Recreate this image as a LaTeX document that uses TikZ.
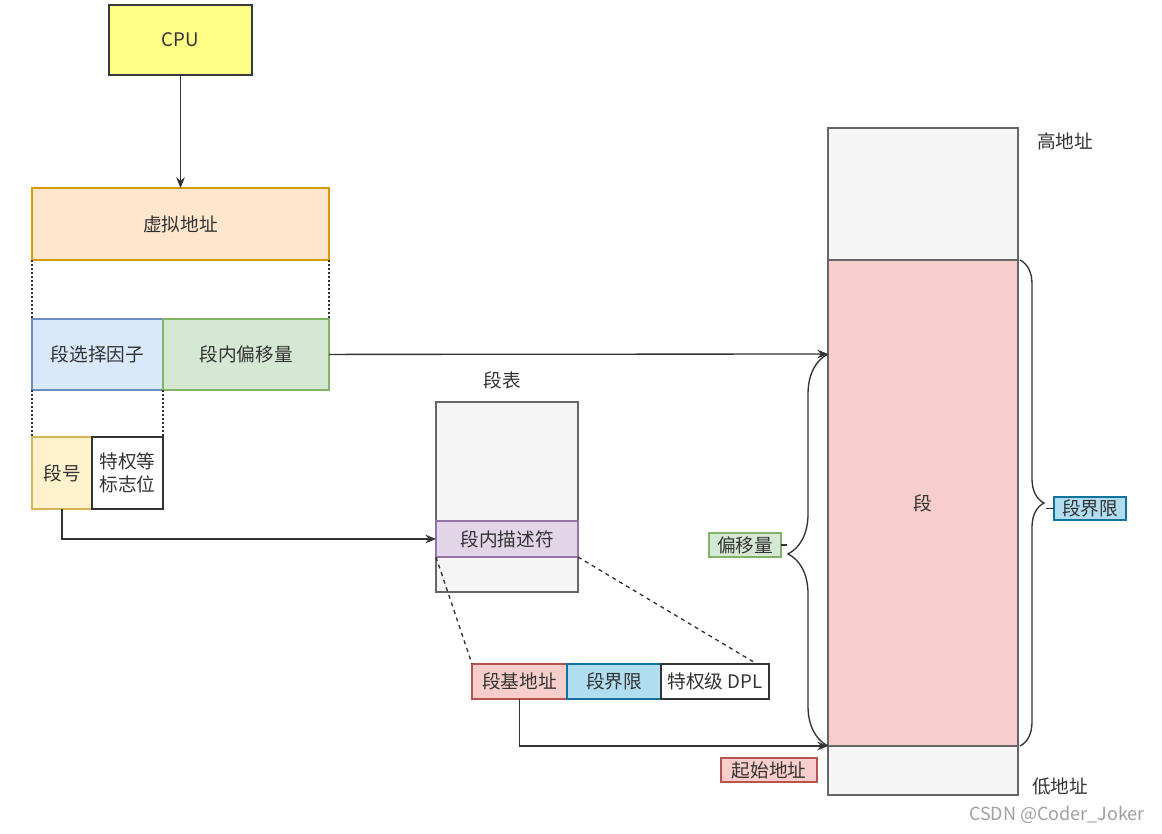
\documentclass[tikz,border=0pt]{standalone}
\usepackage{fontspec}
\setmainfont{Noto Sans CJK SC}
\usepackage[dvipsnames]{xcolor}
\usepackage{tikz}
\usetikzlibrary{arrows.meta,calc,decorations.pathreplacing,positioning}

\definecolor{cpuFill}{HTML}{FFFF88}\definecolor{cpuLine}{HTML}{36393D}
\definecolor{orgFill}{HTML}{FFE6CC}\definecolor{orgLine}{HTML}{D79B00}
\definecolor{bluFill}{HTML}{DAE8FC}\definecolor{bluLine}{HTML}{6C8EBF}
\definecolor{grnFill}{HTML}{D5E8D4}\definecolor{grnLine}{HTML}{82B366}
\definecolor{ylwFill}{HTML}{FFF2CC}\definecolor{ylwLine}{HTML}{D6B656}
\definecolor{gryFill}{HTML}{F5F5F5}\definecolor{gryLine}{HTML}{666666}
\definecolor{purFill}{HTML}{E1D5E7}\definecolor{purLine}{HTML}{9673A6}
\definecolor{redFill}{HTML}{F8CECC}\definecolor{redLine}{HTML}{B85450}
\definecolor{cyaFill}{HTML}{B1DDF0}\definecolor{cyaLine}{HTML}{10739E}
\definecolor{txtGray}{HTML}{333333}

\tikzset{
    blk/.style={draw, inner sep=0pt, outer sep=0pt, line width=0.8pt, text=txtGray, align=center,
        font=\fontsize{14}{17}\selectfont},
    txt/.style={inner sep=0pt, text=txtGray, font=\fontsize{14}{17}\selectfont},
    conn/.style={draw=txtGray, line width=1pt},
    arr/.style={conn, -{Stealth[length=8pt,width=6.5pt]}},
}

\begin{document}
\begin{tikzpicture}[x=0.75pt, y=-0.75pt]
        \useasboundingbox (0,0) rectangle (1162,834);

        \coordinate (xcpu) at (180.5, 40);
        \coordinate (xva) at (180.5, 224);
        \coordinate (xsel) at (97.5, 354.5);
        \coordinate (xoff) at (246, 354.5);
        \coordinate (xno) at (62, 473);
        \coordinate (xflag) at (127.5, 473);
        \coordinate (xtab) at (507, 497);
        \coordinate (xdesc) at (507, 539);
        \coordinate (xbase) at (519.5, 681.5);
        \coordinate (xlim) at (614, 681.5);
        \coordinate (xdpl) at (715, 681.5);
        \coordinate (xmtop) at (923, 194);
        \coordinate (xseg) at (923, 503);
        \coordinate (xmbot) at (923, 770.5);
        \coordinate (offT) at (828, 354);

        \node[blk, fill=cpuFill, draw=cpuLine, minimum width=107.25pt, minimum height=52.5pt] (nodecpu) at (xcpu) {CPU};
        \node[blk, fill=orgFill, draw=orgLine, minimum width=222.75pt, minimum height=54pt] (nodeva) at (xva) {虚拟地址};
        \node[blk, fill=bluFill, draw=bluLine, minimum width=98.25pt, minimum height=53.25pt] (nodesel) at (xsel) {段选择因子};
        \node[blk, fill=grnFill, draw=grnLine, minimum width=124.5pt, minimum height=53.25pt] (nodeoff) at (xoff) {段内偏移量};
        \node[blk, fill=ylwFill, draw=ylwLine, minimum width=45pt, minimum height=54pt] (nodeno) at (xno) {段号};
        \node[blk, draw=txtGray, minimum width=53.25pt, minimum height=54pt] (nodeflag) at (xflag) {特权等\\标志位};

        \node[blk, fill=gryFill, draw=gryLine, minimum width=106.5pt, minimum height=142.5pt] (nodetab) at (xtab) {};
        \node[blk, fill=purFill, draw=purLine, minimum width=106.5pt, minimum height=27pt] (nodedesc) at (xdesc) {段内描述符};
        \node[txt] (nodetabname) at (502, 380) {段表};

        \node[blk, fill=redFill, draw=redLine, minimum width=71.25pt, minimum height=26.25pt] (nodebase) at (xbase) {段基地址};
        \node[blk, fill=cyaFill, draw=cyaLine, minimum width=70.5pt, minimum height=26.25pt] (nodelim) at (xlim) {段界限};
        \node[blk, draw=txtGray, minimum width=81pt, minimum height=26.25pt] (nodedpl) at (xdpl) {特权级 DPL};

        \node[blk, fill=gryFill, draw=gryLine, minimum width=142.5pt, minimum height=99pt] (nodemtop) at (xmtop) {};
        \node[blk, fill=redFill, draw=gryLine, minimum width=142.5pt, minimum height=364.5pt] (nodeseg) at (xseg) {段};
        \node[blk, fill=gryFill, draw=gryLine, minimum width=142.5pt, minimum height=36.75pt] (nodembot) at (xmbot) {};
        \node[txt] (nodehigh) at (1065, 141) {高地址};
        \node[txt] (nodelow) at (1060, 786) {低地址};

        \node[blk, fill=grnFill, draw=grnLine, minimum width=54pt, minimum height=18pt] (nodeofflab) at (745, 545) {偏移量};
        \node[blk, fill=cyaFill, draw=cyaLine, minimum width=54pt, minimum height=17.25pt] (nodelimlab) at (1090, 508.5) {段界限};
        \node[blk, fill=redFill, draw=redLine, minimum width=72pt, minimum height=18pt] (nodestart) at (769, 770) {起始地址};
        \node[inner sep=0pt, text=gray!75, font=\fontsize{13.5}{16}\selectfont] (nodemark) at (1057, 815) {CSDN @Coder\_Joker};

        \draw[arr] (nodecpu) -- (nodeva);
        \draw[arr] (nodeoff) -- (offT);
        \draw[arr] (nodeno.south) |- (nodedesc.west);
        \draw[arr] (nodebase.south) |- (nodeseg.south west);

        \draw[conn, dash pattern=on 1.5pt off 1.5pt] (nodeva.south west) -- (nodesel.north west);
        \draw[conn, dash pattern=on 1.5pt off 1.5pt] (nodeva.south east) -- (nodeoff.north east);
        \draw[conn, dash pattern=on 1.5pt off 1.5pt] (nodesel.south west) -- (nodeno.north west);
        \draw[conn, dash pattern=on 1.5pt off 1.5pt] (nodesel.south east) -- (nodeflag.north east);
        \draw[conn, dash pattern=on 3pt off 3pt] (nodedesc.south west) -- (nodebase.north west);
        \draw[conn, dash pattern=on 3pt off 3pt] (nodedesc.south east) -- ([xshift=-9pt]nodedpl.north east);

        \draw[conn, decorate, decoration={brace, amplitude=30pt, aspect=0.49}] (nodeseg.south west) -- (offT);
        \draw[conn] (nodeofflab.east) -- ++(6, 0);
        \draw[conn, decorate, decoration={brace, amplitude=18pt}] ([xshift=1.5pt]nodeseg.north east) -- ([xshift=1.5pt]nodeseg.south east);
        \draw[conn] (nodelimlab.west) -- ++(-8, 0);
    \end{tikzpicture}
\end{document}
